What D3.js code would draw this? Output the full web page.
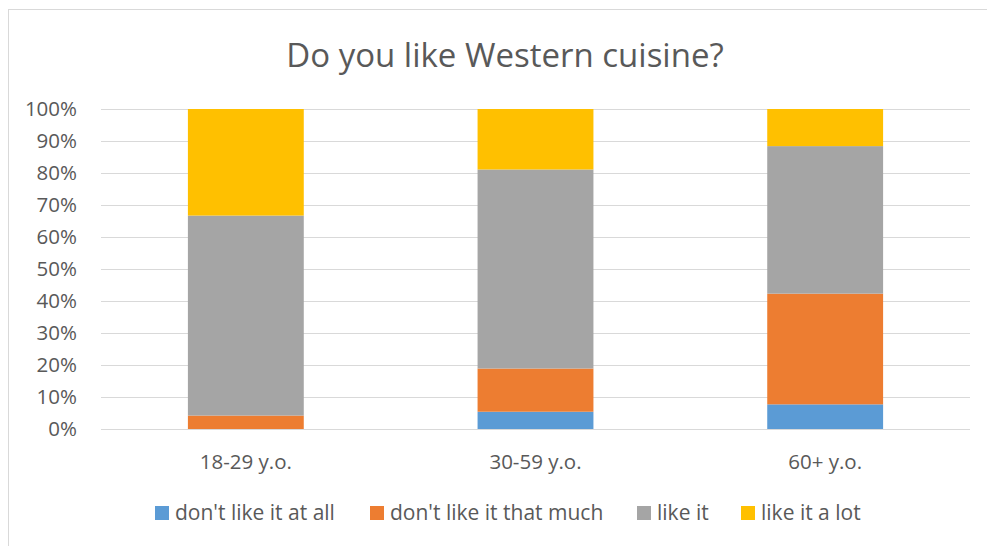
<!DOCTYPE html>
<html><head><meta charset="utf-8">
<script src="https://cdn.jsdelivr.net/npm/d3@7"></script>
<style>body{margin:0;background:#fff}svg{display:block}text{font-family:"Open Sans",sans-serif;fill:#595959}</style>
</head><body><div id="c"></div>
<script>
const categories = ["18-29 y.o.", "30-59 y.o.", "60+ y.o."];
const seriesNames = ["don't like it at all", "don't like it that much", "like it", "like it a lot"];
const dontLikeAtAll = [0, 5.4, 7.7];
const dontLikeMuch = [4.2, 13.5, 34.6];
const likeIt = [62.5, 62.2, 46.1];
const likeALot = [33.3, 18.9, 11.6];
const colors = ["#5B9BD5", "#ED7D31", "#A5A5A5", "#FFC000"];
const yTicks = [0,10,20,30,40,50,60,70,80,90,100];
const title = "Do you like Western cuisine?";

const W = 987, H = 546;
const svg = d3.select("#c").append("svg").attr("width", W).attr("height", H);
svg.append("rect").attr("x", 8.5).attr("y", 9.5).attr("width", 990).attr("height", 560)
  .attr("fill", "#fff").attr("stroke", "#d9d9d9").attr("stroke-width", 1);

const m = {left: 101, right: 970, top: 109, bottom: 429};
const x = d3.scaleBand().domain(categories).range([m.left, m.right]).paddingInner(0.6).paddingOuter(0.3);
const y = d3.scaleLinear().domain([0, 100]).range([m.bottom, m.top]);

svg.append("text").attr("x", 505).attr("y", 67).attr("text-anchor", "middle")
  .style("font-size", "33px").text(title);

const yAxis = d3.axisLeft(y).tickValues(yTicks).tickFormat(d => d + "%").tickSize(-(m.right - m.left)).tickPadding(24);
const gy = svg.append("g").attr("transform", `translate(${m.left},0)`).call(yAxis);
gy.select(".domain").remove();
gy.selectAll("line").attr("stroke", "#d9d9d9").attr("stroke-width", 1);
gy.selectAll("text").style("font-size", "20.5px").attr("fill", "#595959");

const xAxis = d3.axisBottom(x).tickSize(0).tickPadding(25);
const gx = svg.append("g").attr("transform", `translate(0,${m.bottom})`).call(xAxis);
gx.select(".domain").remove();
gx.selectAll("text").style("font-size", "20.5px").attr("fill", "#595959");

const table = categories.map((c, i) => ({cat: c, v: [dontLikeAtAll[i], dontLikeMuch[i], likeIt[i], likeALot[i]]}));
const stack = d3.stack().keys([0,1,2,3]).value((d, k) => d.v[k]);
const series = stack(table);
svg.append("g").selectAll("g").data(series).join("g").attr("fill", (d, i) => colors[i])
  .selectAll("rect").data(d => d).join("rect")
  .attr("x", d => x(d.data.cat)).attr("width", x.bandwidth())
  .attr("y", d => y(d[1])).attr("height", d => y(d[0]) - y(d[1]));

const legX = [155, 370, 637, 741];
const lg = svg.append("g");
seriesNames.forEach((n, i) => {
  lg.append("rect").attr("x", legX[i]).attr("y", 506).attr("width", 14).attr("height", 14).attr("fill", colors[i]);
  lg.append("text").attr("x", legX[i] + 20).attr("y", 520).style("font-size", "21px").text(n);
});
</script></body></html>
